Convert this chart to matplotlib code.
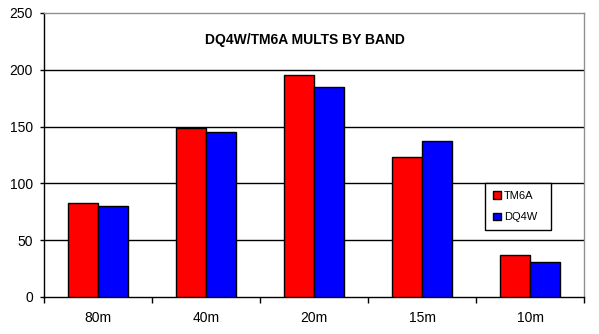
import matplotlib
matplotlib.use("Agg")
import matplotlib.pyplot as plt
import numpy as np

bands = ["80m", "40m", "20m", "15m", "10m"]
tm6a = [83, 149, 195, 123, 37]
dq4w = [80, 145, 185, 137, 31]
series_names = ["TM6A", "DQ4W"]
title = "DQ4W/TM6A MULTS BY BAND"
yticks = [0, 50, 100, 150, 200, 250]

plt.rcParams['font.family'] = ['Liberation Sans', 'DejaVu Sans']

fig = plt.figure(figsize=(5.99, 3.34), dpi=100)
W, H = 599, 334
ax = fig.add_axes([44 / W, 1 - 297 / H, 540 / W, 284 / H])

x = np.arange(len(bands))
bw = 0.28
ax.bar(x - bw / 2, tm6a, bw, color="#ff0000", edgecolor="black", linewidth=1.0,
       label=series_names[0], zorder=3)
ax.bar(x + bw / 2, dq4w, bw, color="#0000ff", edgecolor="black", linewidth=1.0,
       label=series_names[1], zorder=3)

ax.set_xlim(-0.5, len(bands) - 0.5)
ax.set_ylim(0, 250)
ax.set_yticks(yticks)
ax.set_yticklabels([str(v) for v in yticks])
for v in yticks[1:-1]:
    ax.axhline(v, color="black", linewidth=1.0, zorder=1)

ax.set_xticks(np.arange(-0.5, len(bands)), labels=[""] * (len(bands) + 1))
ax.set_xticks(x, labels=bands, minor=True)
ax.tick_params(axis="x", which="major", length=4, width=1, direction="out", color="black")
ax.tick_params(axis="x", which="minor", length=0, pad=10, labelsize=10)
ax.tick_params(axis="y", length=3, width=1, direction="out", pad=5, labelsize=10)

for s in ["top", "right"]:
    ax.spines[s].set_color("#909090")
    ax.spines[s].set_linestyle((0, (1, 1)))
    ax.spines[s].set_linewidth(1.0)
for s in ["left", "bottom"]:
    ax.spines[s].set_color("black")
    ax.spines[s].set_linewidth(1.0)

fig.text(305 / W, 1 - 40 / H, title, ha="center", va="center",
         fontsize=10, fontweight="bold")

leg = ax.legend(loc="upper left", bbox_to_anchor=(0.817, 0.236, 0.122, 0.164),
                mode="expand", borderaxespad=0,
                frameon=True, fancybox=False, edgecolor="black", framealpha=1,
                fontsize=8, handlelength=0.7, handleheight=0.7, handletextpad=0.3,
                labelspacing=1.0, borderpad=0.7)
leg.get_frame().set_linewidth(1.0)
leg.set_zorder(5)

fig.savefig("out.png", dpi=100)
